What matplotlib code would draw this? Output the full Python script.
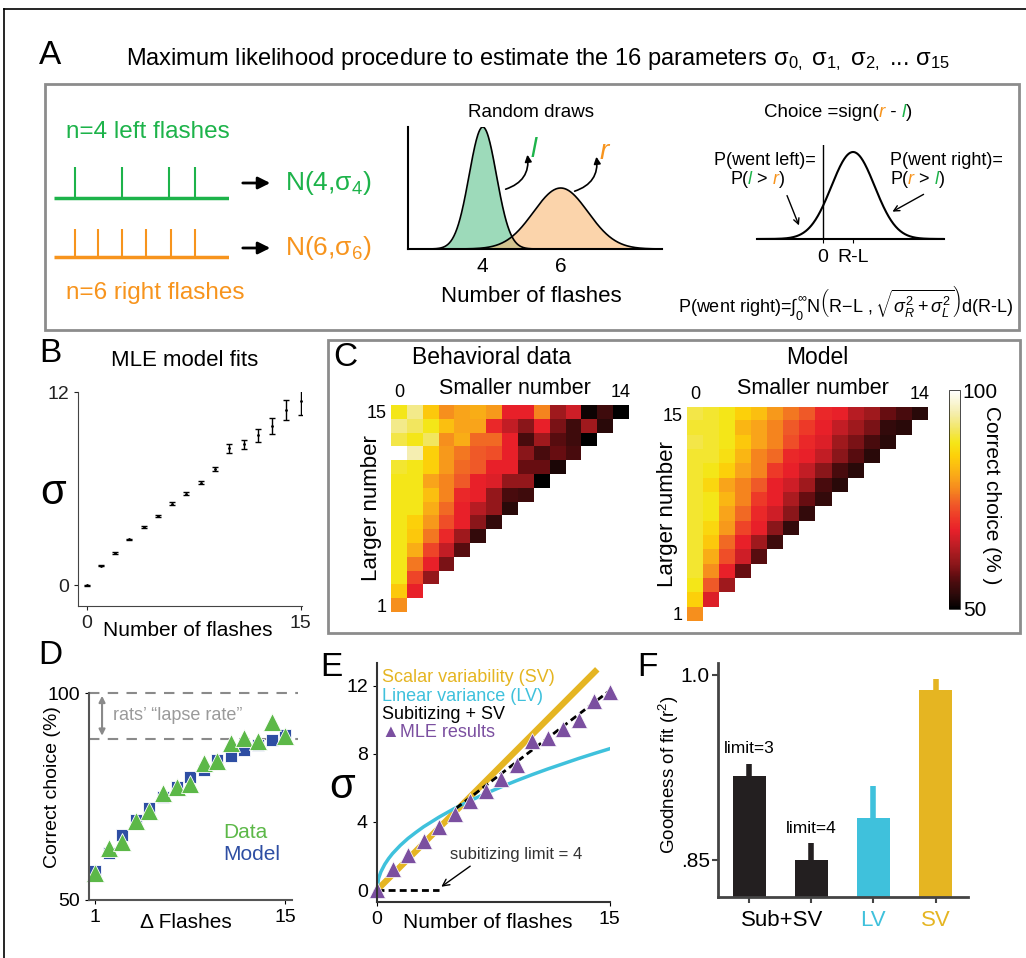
import numpy as np
import matplotlib
matplotlib.use('Agg')
import matplotlib.pyplot as plt
from matplotlib.colors import LinearSegmentedColormap
from matplotlib.patches import Rectangle

plt.rcParams['font.family'] = ['Liberation Sans', 'DejaVu Sans']
plt.rcParams['mathtext.fontset'] = 'custom'
plt.rcParams['mathtext.rm'] = 'Liberation Sans'
plt.rcParams['mathtext.it'] = 'Liberation Sans:italic'
plt.rcParams['mathtext.bf'] = 'Liberation Sans:bold'

W, H = 1026, 958

GREEN = '#1db34a'
ORANGE = '#f7941d'
BLUE = '#2e4ea3'
DGREEN = '#5cb848'
CYAN = '#3fc1dc'
GOLD = '#e5b522'
PURPLE = '#7b4fa0'
DARK = '#231f20'

# ---- panel A data
left_flashes = [0.12, 0.386, 0.657, 0.803]
right_flashes = [0.12, 0.251, 0.386, 0.526, 0.666, 0.803]
draw_mu = [4, 6]
draw_sd = [0.35, 0.7]
choice_mu = 1.0
choice_sd = 0.72

# ---- panel B data
mle_n = list(range(16))
mle_sigma = [0.0, 1.2, 2.0, 2.84, 3.62, 4.29, 5.07, 5.69, 6.36, 7.2, 8.49, 8.74, 9.32, 9.88, 10.87, 11.43]
mle_err = [0.03, 0.04, 0.05, 0.05, 0.06, 0.07, 0.08, 0.09, 0.1, 0.12, 0.3, 0.3, 0.4, 0.49, 0.64, 0.85]

# ---- panel C data (rows: larger number 1..15, columns: smaller number 0..)
behav_rows = [
    [78],
    [84, 68],
    [88, 72, 61],
    [88, 76, 68, 59],
    [88, 81, 72, 65, 57],
    [88, 84, 76, 69, 62, 54],
    [88, 85, 79, 73, 68, 60, 54],
    [88, 88, 81, 75, 68, 64, 61, 53],
    [88, 88, 83, 77, 69, 68, 61, 56, 55],
    [88, 88, 80, 77, 74, 68, 67, 61, 61, 50],
    [89, 88, 85, 79, 75, 74, 68, 68, 58, 58, 52],
    [100, 95, 85, 79, 76, 74, 73, 68, 60, 56, 58, 56],
    [90, 88, 91, 78, 81, 75, 75, 68, 56, 62, 57, 55, 50],
    [93, 91, 88, 83, 80, 80, 69, 65, 60, 68, 59, 55, 62, 53],
    [88, 93, 84, 78, 80, 81, 79, 68, 68, 77, 62, 66, 51, 55, 50],
]
model_rows = [
    [78],
    [85, 67],
    [88, 74, 62],
    [89, 78, 68, 58],
    [89, 81, 73, 66, 57],
    [89, 84, 75, 68, 62, 55],
    [89, 86, 79, 72, 68, 60, 54],
    [89, 88, 80, 75, 69, 66, 60, 54],
    [89, 88, 82, 77, 71, 68, 63, 58, 54],
    [89, 86, 80, 77, 74, 68, 66, 62, 56, 53],
    [89, 88, 85, 80, 77, 71, 68, 65, 60, 56, 53],
    [89, 89, 87, 82, 77, 75, 69, 68, 65, 60, 57, 53],
    [90, 89, 88, 84, 80, 77, 73, 69, 67, 62, 59, 56, 53],
    [89, 89, 88, 82, 80, 77, 74, 71, 68, 65, 62, 59, 54, 53],
    [90, 89, 88, 85, 83, 79, 76, 74, 69, 68, 64, 62, 58, 56, 53],
]
cmap_vals = [50, 53, 56, 58, 60, 62, 65, 68, 71, 74, 77, 80, 83, 85, 88, 91, 95, 100]
cmap_cols = ['#000000', '#2a0a0a', '#4a0c0e', '#6a0e12', '#8a161a', '#a01a1e', '#c41e26',
             '#e8202a', '#ee3a28', '#f05a28', '#f5841f', '#f9a41a', '#fcc010', '#fdd00a',
             '#f5e618', '#f2e660', '#f5eeb0', '#ffffff']

# ---- panel D data
d_flashes = list(range(1, 16))
d_model = [57.1, 61.3, 65.7, 69.4, 72.2, 75.0, 77.4, 79.8, 81.5, 83.7, 84.8, 86.3, 87.5, 88.7, 89.9]
d_data = [56.6, 62.5, 64.1, 69.1, 71.6, 75.8, 77.4, 78.1, 83.1, 83.5, 87.9, 89.1, 88.3, 93.1, 89.5]
lapse_level = 89

# ---- panel E data
e_mle = [0.0, 1.26, 2.03, 2.9, 3.68, 4.46, 5.23, 5.81, 6.49, 7.33, 8.72, 8.91, 9.46, 9.98, 11.08, 11.63]
sv_x = [0, 14.2]
sv_y = [0, 12.95]
lv_x = [0, 0.1, 0.25, 0.5, 0.75, 1, 1.5, 2, 2.5, 3, 4, 5, 6, 7, 8, 9, 10, 11, 12, 13, 14, 15]
lv_y = [0, 0.68, 1.07, 1.51, 1.85, 2.14, 2.62, 3.03, 3.38, 3.71, 4.28, 4.79, 5.24, 5.66,
        6.05, 6.42, 6.77, 7.1, 7.41, 7.72, 8.01, 8.29]
sub_x = [0, 4]
sub_y = [0, 0]
subsv_x = [5.1, 15]
subsv_y = [4.8, 11.7]

# ---- panel F data
f_models = ['Sub+SV (3)', 'Sub+SV (4)', 'LV', 'SV']
f_r2 = [0.918, 0.850, 0.884, 0.988]
f_err = [0.010, 0.0135, 0.026, 0.0087]
f_colors = [DARK, DARK, CYAN, GOLD]


def box(x0, y0, x1, y1):
    return [x0 / W, 1 - y1 / H, (x1 - x0) / W, (y1 - y0) / H]


fig = plt.figure(figsize=(W / 100, H / 100), dpi=100)

# overlay in pixel coordinates, on top of the panels (transparent)
ov = fig.add_axes([0, 0, 1, 1])
ov.set_xlim(0, W)
ov.set_ylim(H, 0)
ov.axis('off')
ov.set_zorder(10)

# frame lines and panel boxes
ov.plot([4, W], [9, 9], color='black', lw=1.2)
ov.plot([4, 4], [9, H], color='black', lw=1.2)
ov.add_patch(Rectangle((45, 84), 974, 246, fill=False, ec='#8c8c8c', lw=2))
ov.add_patch(Rectangle((328, 340), 692, 293, fill=False, ec='#8c8c8c', lw=2))

for lab, x, y in [('A', 50, 55), ('B', 50, 353), ('C', 345, 358),
                  ('D', 50, 656), ('E', 331, 667), ('F', 647, 667)]:
    ov.text(x, y, lab, fontsize=24, ha='center', va='center')

ov.text(538, 60, 'Maximum likelihood procedure to estimate the 16 parameters '
        'σ$_{0,}$ σ$_{1,}$ σ$_{2,}$ ... σ$_{15}$', fontsize=17, ha='center', va='center')


def multicolor(x, y, parts, fs):
    t = ov.text(x, y, parts[0][0], color=parts[0][1], fontsize=fs, style=parts[0][2],
                ha='left', va='center')
    for s, c, st in parts[1:]:
        t = ov.annotate(s, xy=(1, 0), xycoords=t, color=c, fontsize=fs, style=st,
                        ha='left', va='bottom')


# ---------------- panel A: flashes
ax_f = fig.add_axes(box(54, 162, 229, 262))
ax_f.set_xlim(0, 1)
ax_f.set_ylim(0, 100)
ax_f.axis('off')
ax_f.plot([0, 1], [64, 64], color=GREEN, lw=2.5, solid_capstyle='butt')
ax_f.vlines(left_flashes, 64, 95, color=GREEN, lw=1.5)
ax_f.plot([0, 1], [5, 5], color=ORANGE, lw=2.5, solid_capstyle='butt')
ax_f.vlines(right_flashes, 5, 33, color=ORANGE, lw=1.5)

ov.text(66, 132, 'n=4 left flashes', color=GREEN, fontsize=17.5, va='center')
ov.text(66, 293, 'n=6 right flashes', color=ORANGE, fontsize=17.5, va='center')
for yy in [183, 248]:
    ov.annotate('', xy=(273, yy), xytext=(240, yy),
                arrowprops=dict(arrowstyle='-|>', lw=2, color='black', mutation_scale=18))
ov.text(285, 183, 'N(4,σ$_4$)', color=GREEN, fontsize=19, va='center')
ov.text(285, 248, 'N(6,σ$_6$)', color=ORANGE, fontsize=19, va='center')

# random draws
ax_g = fig.add_axes(box(408, 127, 662, 249))
xs = np.linspace(2.1, 8.6, 500)
for mu, sd, col in zip(draw_mu, draw_sd, ['#5cc28c', '#f9b873']):
    pdf = np.exp(-0.5 * ((xs - mu) / sd) ** 2) / (sd * np.sqrt(2 * np.pi))
    ax_g.fill_between(xs, 0, pdf, color=col, alpha=0.6, lw=0)
    ax_g.plot(xs, pdf, color='black', lw=1.2)
ax_g.set_xlim(2.08, 8.6)
ax_g.set_ylim(0, 1.14)
for s in ['top', 'right']:
    ax_g.spines[s].set_visible(False)
ax_g.spines['left'].set_linewidth(1.5)
ax_g.spines['bottom'].set_linewidth(1.5)
ax_g.set_yticks([])
ax_g.set_xticks(draw_mu)
ax_g.tick_params(axis='x', length=0, labelsize=15, pad=6)
ov.text(531, 112, 'Random draws', fontsize=13.5, ha='center', va='center')
ov.text(531, 297, 'Number of flashes', fontsize=16, ha='center', va='center')
ov.text(531, 150, 'l', color=GREEN, fontsize=20, style='italic', va='center')
ov.text(600, 152, 'r', color=ORANGE, fontsize=20, style='italic', va='center')
ov.annotate('', xy=(527, 152), xytext=(503, 190),
            arrowprops=dict(arrowstyle='-|>', lw=1.2, color='black',
                            connectionstyle='arc3,rad=0.45', mutation_scale=10))
ov.annotate('', xy=(596, 154), xytext=(572, 192),
            arrowprops=dict(arrowstyle='-|>', lw=1.2, color='black',
                            connectionstyle='arc3,rad=0.45', mutation_scale=10))

# choice
ax_c = fig.add_axes(box(757, 145, 944, 239))
ax_c.patch.set_alpha(0)
xc = np.linspace(-2.2, 4.03, 400)
pc = np.exp(-0.5 * ((xc - choice_mu) / choice_sd) ** 2) / (choice_sd * np.sqrt(2 * np.pi))
ax_c.plot(xc, pc, color='black', lw=1.5)
ax_c.axvline(0, color='black', lw=1)
ax_c.set_xlim(-2.2, 4.03)
ax_c.set_ylim(0, pc.max() * 94 / 87)
for s in ['top', 'right', 'left']:
    ax_c.spines[s].set_visible(False)
ax_c.spines['bottom'].set_linewidth(1.5)
ax_c.set_yticks([])
ax_c.set_xticks([0, choice_mu])
ax_c.set_xticklabels(['0', 'R-L'])
ax_c.tick_params(axis='x', length=3, labelsize=14, pad=4)

multicolor(764, 112, [('Choice =sign(', 'black', 'normal'), ('r', ORANGE, 'italic'),
                      (' - ', 'black', 'normal'), ('l', GREEN, 'italic'), (')', 'black', 'normal')], 13.5)
ov.text(714, 160, 'P(went left)=', fontsize=13, va='center')
multicolor(730, 179, [('P(', 'black', 'normal'), ('l', GREEN, 'italic'), (' > ', 'black', 'normal'),
                      ('r', ORANGE, 'italic'), (')', 'black', 'normal')], 13)
ov.text(890, 160, 'P(went right)=', fontsize=13, va='center')
multicolor(890, 179, [('P(', 'black', 'normal'), ('r', ORANGE, 'italic'), (' > ', 'black', 'normal'),
                      ('l', GREEN, 'italic'), (')', 'black', 'normal')], 13)
ov.annotate('', xy=(800, 228), xytext=(786, 193),
            arrowprops=dict(arrowstyle='->', lw=1, color='black'))
ov.annotate('', xy=(890, 213), xytext=(926, 193),
            arrowprops=dict(arrowstyle='->', lw=1, color='black'))
ov.text(1013, 302, r'P(went right)=$\int_0^\infty$N$\left(\mathrm{R\!-\!L}\ ,\sqrt{\sigma_R^2+\sigma_L^2}\right)$d(R-L)',
        fontsize=13, ha='right', va='center')

# ---------------- panel B
ax_b = fig.add_axes(box(78, 392, 302, 606))
ax_b.errorbar(mle_n, mle_sigma, yerr=mle_err, fmt='.', color='black', ms=2,
              elinewidth=1, capsize=2.2, capthick=1)
ax_b.set_xlim(-0.6, 15.1)
ax_b.set_ylim(-1.3, 12)
for s in ['top', 'right']:
    ax_b.spines[s].set_visible(False)
for s in ['left', 'bottom']:
    ax_b.spines[s].set_color('#444444')
ax_b.set_xticks([0, 15])
ax_b.set_yticks([0, 12])
ax_b.tick_params(length=3, labelsize=14, colors='#222222')
ov.text(185, 360, 'MLE model fits', fontsize=16, ha='center', va='center')
ov.text(188, 630, 'Number of flashes', fontsize=15, ha='center', va='center')
ov.text(53, 493, 'σ', fontsize=30, ha='center', va='center')

# ---------------- panel C
cmap = LinearSegmentedColormap.from_list(
    'corr', [((v - 50) / 50, c) for v, c in zip(cmap_vals, cmap_cols)])


def heat(rows, rect):
    m = np.full((15, 15), np.nan)
    for i, r in enumerate(rows):
        m[i, :len(r)] = r
    ax = fig.add_axes(box(*rect))
    im = ax.imshow(np.ma.masked_invalid(m), origin='lower', cmap=cmap, vmin=50, vmax=100,
                   extent=(-0.5, 14.5, 0.5, 15.5), aspect='auto', interpolation='nearest')
    for s in ax.spines.values():
        s.set_visible(False)
    ax.xaxis.tick_top()
    ax.set_xticks([0, 14])
    ax.set_yticks([1, 15])
    ax.tick_params(length=0, labelsize=13, pad=3)
    ax.set_ylabel('Larger number', fontsize=16, labelpad=-11)
    return ax, im


ax_h1, im1 = heat(behav_rows, (391, 405, 629, 612))
ax_h2, im2 = heat(model_rows, (687, 407, 928, 621))
ov.text(492, 358, 'Behavioral data', fontsize=16.5, ha='center', va='center')
ov.text(817, 358, 'Model', fontsize=16.5, ha='center', va='center')
ov.text(515, 388, 'Smaller number', fontsize=15.5, ha='center', va='center')
ov.text(813, 388, 'Smaller number', fontsize=15.5, ha='center', va='center')

cax = fig.add_axes(box(949, 390, 960, 609))
cb = fig.colorbar(im2, cax=cax, ticks=[50, 100])
cb.outline.set_linewidth(0.5)
cb.ax.tick_params(length=0, labelsize=15, pad=2)
ov.text(992, 495, 'Correct choice (% )', fontsize=15, rotation=270, ha='center', va='center')

# ---------------- panel D
ax_d = fig.add_axes(box(89, 693, 292, 900))
ax_d.hlines([100, lapse_level], 0.56, 15.96, colors='#8a8a8a', lw=1.5,
            linestyles=(0, (5, 4)), clip_on=False)
ax_d.annotate('', xy=(1.52, 100), xytext=(1.52, lapse_level),
              arrowprops=dict(arrowstyle='<|-|>', color='#8a8a8a', lw=1.5, mutation_scale=9))
ax_d.text(2.3, 94.5, 'rats\u2019 \u201clapse rate\u201d', color='#9a9a9a', fontsize=13, va='center')
ax_d.plot(d_flashes, d_model, 's', color=BLUE, ms=9, mec='white', mew=0.6, clip_on=False)
ax_d.plot(d_flashes, d_data, '^', color=DGREEN, ms=12.5, mec='white', mew=0.6, clip_on=False)
ax_d.set_xlim(0.56, 15.5)
ax_d.set_ylim(50, 100)
for s in ['top', 'right']:
    ax_d.spines[s].set_visible(False)
for s in ['left', 'bottom']:
    ax_d.spines[s].set_color('#555555')
    ax_d.spines[s].set_linewidth(1.5)
ax_d.set_xticks([1, 15])
ax_d.set_yticks([50, 100])
ax_d.tick_params(length=3, labelsize=14)
ov.text(53, 787, 'Correct choice (%)', fontsize=14, rotation=90, ha='center', va='center')
ov.text(223, 832, 'Data', color=DGREEN, fontsize=15, va='center')
ov.text(223, 855, 'Model', color=BLUE, fontsize=15, va='center')
ov.text(186, 923, '\u0394 Flashes', fontsize=15, ha='center', va='center')

# ---------------- panel E
ax_e = fig.add_axes(box(377, 663, 610, 902))
ax_e.plot(sv_x, sv_y, color=GOLD, lw=4.5, solid_capstyle='butt')
ax_e.plot(lv_x, lv_y, color=CYAN, lw=2.5)
ax_e.plot(sub_x, sub_y, color='black', lw=2, ls=(0, (2.5, 1.5)))
ax_e.plot(subsv_x, subsv_y, color='black', lw=2, ls=(0, (2.5, 1.5)))
ax_e.plot(mle_n, e_mle, '^', color=PURPLE, ms=11, mec='white', mew=0.5, clip_on=False)
ax_e.set_xlim(0, 15.02)
ax_e.set_ylim(-0.7, 13.32)
for s in ['top', 'right']:
    ax_e.spines[s].set_visible(False)
for s in ['left', 'bottom']:
    ax_e.spines[s].set_color('#333333')
    ax_e.spines[s].set_linewidth(1.5)
ax_e.set_xticks([0, 15])
ax_e.set_yticks([0, 4, 8, 12])
ax_e.tick_params(length=3, labelsize=14)
ax_e.text(0.35, 12.45, 'Scalar variability (SV)', color=GOLD, fontsize=13, va='center')
ax_e.text(0.35, 11.35, 'Linear variance (LV)', color=CYAN, fontsize=13, va='center')
ax_e.text(0.35, 10.3, 'Subitizing + SV', color='black', fontsize=13, va='center')
ax_e.text(0.35, 9.25, '\u25b2MLE results', color=PURPLE, fontsize=13, va='center')
ax_e.annotate('subitizing limit = 4', xy=(4.0, 0.1), xytext=(4.7, 2.1),
              fontsize=12, color='#333333', va='center', ha='left',
              arrowprops=dict(arrowstyle='->', color='black', lw=1,
                              relpos=(0.2, 0.0)))
ov.text(342, 787, 'σ', fontsize=30, ha='center', va='center')
ov.text(488, 922, 'Number of flashes', fontsize=15, ha='center', va='center')

# ---------------- panel F
ax_fb = fig.add_axes(box(718, 663, 968, 897))
fx = np.arange(len(f_models))
ax_fb.bar(fx, f_r2, width=0.53, color=f_colors)
ax_fb.vlines(fx, f_r2, np.array(f_r2) + np.array(f_err), colors=f_colors, lw=4)
ax_fb.set_xlim(-0.5, 3.52)
ax_fb.set_ylim(0.82, 1.0097)
for s in ['top', 'right']:
    ax_fb.spines[s].set_visible(False)
for s in ['left', 'bottom']:
    ax_fb.spines[s].set_color('#444444')
    ax_fb.spines[s].set_linewidth(2)
ax_fb.set_xticks(fx)
ax_fb.set_xticklabels([])
ax_fb.set_yticks([0.85, 1.0])
ax_fb.set_yticklabels(['.85', '1.0'])
ax_fb.tick_params(length=4, width=1.5, labelsize=15, color='#444444', pad=2)
ov.text(669, 775, 'Goodness of fit (r$^2$)', fontsize=13.5, rotation=90, ha='center', va='center')
ax_fb.text(0, f_r2[0] + f_err[0] + 0.012, 'limit=3', fontsize=12.5, ha='center', va='center')
ax_fb.text(1, f_r2[1] + f_err[1] + 0.012, 'limit=4', fontsize=12.5, ha='center', va='center')
ov.text(782, 920, 'Sub+SV', fontsize=16, ha='center', va='center')
ov.text(873, 920, 'LV', color=CYAN, fontsize=16, ha='center', va='center')
ov.text(936, 920, 'SV', color=GOLD, fontsize=16, ha='center', va='center')

fig.savefig('out.png', dpi=100)
